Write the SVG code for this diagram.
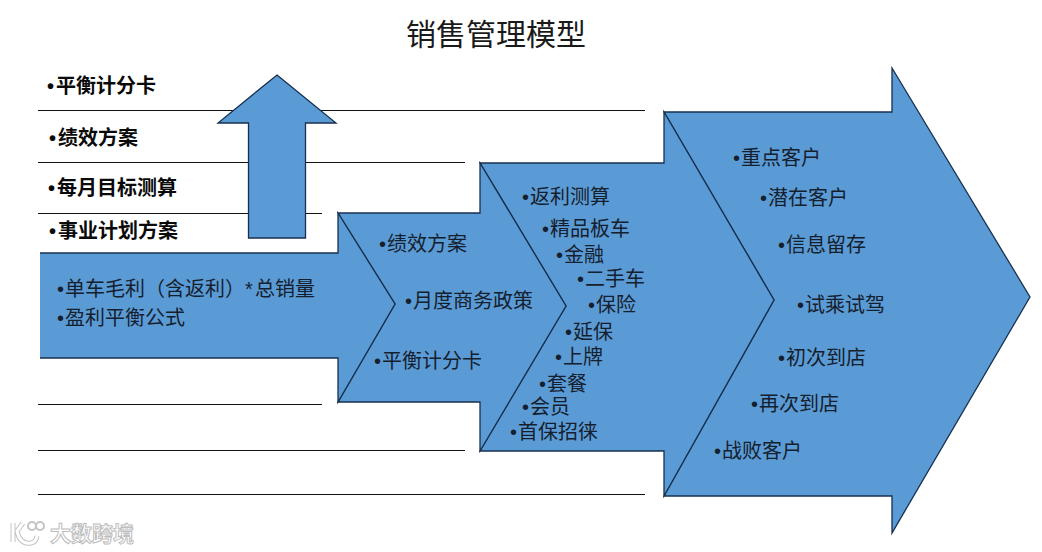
<svg xmlns="http://www.w3.org/2000/svg" width="1042" height="552" viewBox="0 0 1042 552">
<style>
text{font-family:"Liberation Sans","Noto Sans CJK SC",sans-serif;font-size:20px;fill:#15202e}
.b{font-weight:700;fill:#0a0a0a}
.a{fill:#5b9bd5;stroke:#17304f;stroke-width:1.3;stroke-linejoin:miter}
.l{stroke:#111;stroke-width:1.2;fill:none}
</style>
<rect width="1042" height="552" fill="#fff"/>
<text id="title" x="406" y="45" style="font-size:30px;fill:#1a1a1a">销售管理模型</text>
<g id="connectors">
<line class="l" x1="38" y1="110.5" x2="645" y2="110.5"/>
<line class="l" x1="38" y1="162.5" x2="465" y2="162.5"/>
<line class="l" x1="38" y1="213.5" x2="322" y2="213.5"/>
<line class="l" x1="38" y1="404.5" x2="322" y2="404.5"/>
<line class="l" x1="38" y1="450.5" x2="465" y2="450.5"/>
<line class="l" x1="38" y1="494.5" x2="645" y2="494.5"/>
</g>
<g id="side-labels">
<text class="b" x="47" y="93">•<tspan x="56">平衡计分卡</tspan></text>
<text class="b" x="49" y="145">•<tspan x="58">绩效方案</tspan></text>
<text class="b" x="48" y="195">•<tspan x="57">每月目标测算</tspan></text>
<text class="b" x="49" y="238">•<tspan x="58">事业计划方案</tspan></text>
</g>
<g id="up-arrow">
<polygon class="a" points="277,75 336,123 305.5,123 305.5,238 248.5,238 248.5,123 218,123"/>
</g>
<g id="stage-4">
<polygon class="a" points="664,112 892,112 892,68 1030,297 892,533 892,496 664,496 774,300"/>
<text x="733" y="165">•<tspan x="741">重点客户</tspan></text>
<text x="760" y="205">•<tspan x="768">潜在客户</tspan></text>
<text x="778" y="252">•<tspan x="786">信息留存</tspan></text>
<text x="797" y="312">•<tspan x="805">试乘试驾</tspan></text>
<text x="778" y="365">•<tspan x="786">初次到店</tspan></text>
<text x="751" y="411">•<tspan x="759">再次到店</tspan></text>
<text x="714" y="458">•<tspan x="722">战败客户</tspan></text>
</g>
<g id="stage-3">
<polygon class="a" points="480,163 664,163 664,112 774,300 664,496 664,451 480,451 566,306"/>
<text x="522" y="204">•<tspan x="530">返利测算</tspan></text>
<text x="542" y="236">•<tspan x="550">精品板车</tspan></text>
<text x="556" y="262">•<tspan x="564">金融</tspan></text>
<text x="577" y="286">•<tspan x="585">二手车</tspan></text>
<text x="588" y="312">•<tspan x="596">保险</tspan></text>
<text x="565" y="339">•<tspan x="573">延保</tspan></text>
<text x="555" y="364">•<tspan x="563">上牌</tspan></text>
<text x="539" y="391">•<tspan x="547">套餐</tspan></text>
<text x="522" y="414">•<tspan x="530">会员</tspan></text>
<text x="510" y="439">•<tspan x="518">首保招徕</tspan></text>
</g>
<g id="stage-2">
<polygon class="a" points="338,213 480,213 480,163 566,306 480,451 480,402 338,402 395,304"/>
<text x="379" y="251">•<tspan x="387">绩效方案</tspan></text>
<text x="405" y="308">•<tspan x="413">月度商务政策</tspan></text>
<text x="374" y="368">•<tspan x="382">平衡计分卡</tspan></text>
</g>
<g id="stage-1">
<path class="a" d="M40 253H338V213L395 304L338 402V358H40"/>
<text x="57" y="296">•<tspan x="65">单车毛利（含返利）*<tspan x="255">总销量</tspan></tspan></text>
<text x="57" y="325">•<tspan x="65">盈利平衡公式</tspan></text>
</g>
<g id="watermark">
<path d="M13 523V542M23 523L17 531Q20 545 31 543Q36 542 37 536" fill="none" stroke="#c4c4c4" stroke-width="5"/>
<path d="M13 523V542M23 523L17 531Q20 545 31 543Q36 542 37 536" fill="none" stroke="#fff" stroke-width="3"/>
<circle cx="32" cy="526" r="4" fill="#fff" stroke="#c4c4c4" stroke-width="2"/>
<circle cx="40" cy="526" r="4" fill="#fff" stroke="#c4c4c4" stroke-width="2"/>
<text x="50" y="541" style="font-size:21px;font-weight:700;fill:#fff;stroke:#bdbdbd;stroke-width:1">大数跨境</text>
</g>
</svg>
